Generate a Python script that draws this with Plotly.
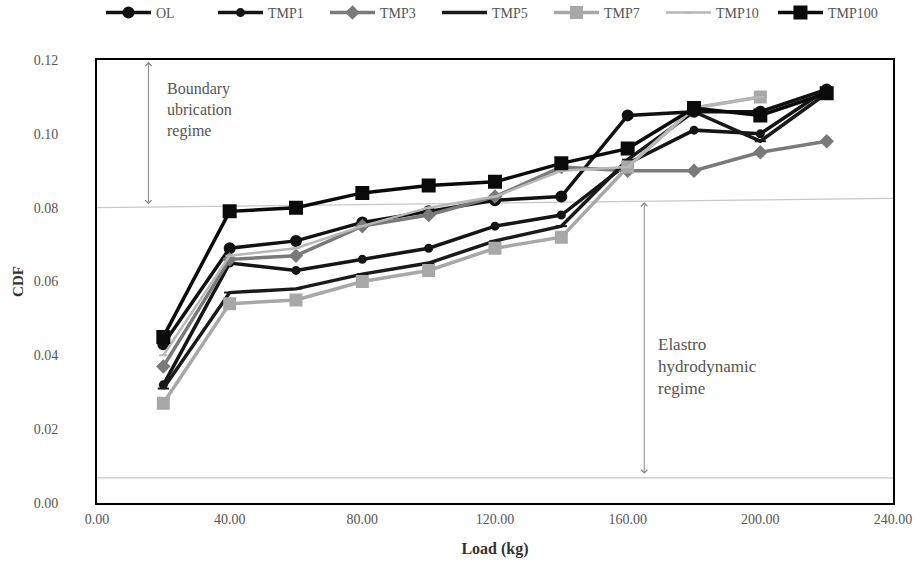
import plotly.graph_objects as go

loads = [20, 40, 60, 80, 100, 120, 140, 160, 180, 200, 220]

ol     = [0.043, 0.069, 0.071, 0.076, 0.079, 0.082, 0.083, 0.105, 0.106, 0.106, 0.112]
tmp1   = [0.032, 0.065, 0.063, 0.066, 0.069, 0.075, 0.078, 0.092, 0.101, 0.100, 0.112]
tmp3   = [0.037, 0.066, 0.067, 0.075, 0.078, 0.083, 0.091, 0.090, 0.090, 0.095, 0.098]
tmp5   = [0.031, 0.057, 0.058, 0.062, 0.065, 0.071, 0.075, 0.093, 0.106, 0.098, 0.111]
tmp7   = [0.027, 0.054, 0.055, 0.060, 0.063, 0.069, 0.072, 0.091, 0.107, 0.110, None]
tmp10  = [0.040, 0.067, 0.069, 0.075, 0.080, 0.083, 0.090, 0.091, 0.107, 0.110, None]
tmp100 = [0.045, 0.079, 0.080, 0.084, 0.086, 0.087, 0.092, 0.096, 0.107, 0.105, 0.111]

names = ["OL", "TMP1", "TMP3", "TMP5", "TMP7", "TMP10", "TMP100"]
series = [ol, tmp1, tmp3, tmp5, tmp7, tmp10, tmp100]
colors = ["#111111", "#151515", "#7a7a7a", "#1a1a1a", "#a8a8a8", "#b8b8b8", "#0a0a0a"]
symbols = ["circle", "circle", "diamond", "line-ew", "square", "line-ew", "square"]
msizes = [10, 7, 9, 8, 11, 6, 12]
widths = [3.5, 3.5, 3.5, 3.5, 3.5, 2.5, 3.5]

x_ticks = [0, 40, 80, 120, 160, 200, 240]
y_ticks = [0.00, 0.02, 0.04, 0.06, 0.08, 0.10, 0.12]

fig = go.Figure()
for n, s, c, sym, ms, w in zip(names, series, colors, symbols, msizes, widths):
    fig.add_trace(go.Scatter(
        x=loads, y=s, name=n, mode="lines+markers",
        line=dict(color=c, width=w),
        marker=dict(symbol=sym, size=ms, color=c, line=dict(color=c, width=2)),
        connectgaps=False,
    ))

serif = "Liberation Serif, Times New Roman, serif"

fig.update_layout(
    width=920, height=572,
    margin=dict(l=97, r=27, t=60, b=69, autoexpand=False),
    paper_bgcolor="white", plot_bgcolor="white",
    font=dict(family=serif, size=12, color="#555555"),
    showlegend=True,
    legend=dict(orientation="h", x=0.005, y=1.07, xanchor="left", yanchor="bottom",
                font=dict(family=serif, size=14, color="#555555"),
                entrywidth=52, entrywidthmode="pixels", itemwidth=45,
                tracegroupgap=0),
    xaxis=dict(range=[0, 240], tickvals=x_ticks, ticktext=[f"{v:.2f}" for v in x_ticks],
               showgrid=False, zeroline=False, showline=True, linecolor="black", linewidth=2,
               mirror=True, ticks="", tickfont=dict(family=serif, size=14, color="#555555"),
               ticklabelstandoff=2,
               title=dict(text="<b>Load (kg)</b>", font=dict(family=serif, size=16, color="#333333"),
                          standoff=17)),
    yaxis=dict(range=[0, 0.12], tickvals=y_ticks, ticktext=[f"{v:.2f}" for v in y_ticks],
               showgrid=False, zeroline=False, showline=True, linecolor="black", linewidth=2,
               mirror=True, ticks="", tickfont=dict(family=serif, size=14, color="#555555"),
               ticklabelstandoff=34,
               title=dict(text="<b>CDF</b>", font=dict(family=serif, size=15, color="#333333"),
                          standoff=6)),
)

# regime boundary lines
fig.add_shape(type="line", xref="x", yref="y", x0=0, x1=240, y0=0.080, y1=0.0825,
              line=dict(color="#c8c8c8", width=1.2), layer="below")
fig.add_shape(type="line", xref="x", yref="y", x0=0, x1=240, y0=0.0068, y1=0.0068,
              line=dict(color="#c8c8c8", width=1.2), layer="below")

# double-headed arrows
fig.add_annotation(x=15.5, y=0.1195, ax=15.5, ay=0.0805, xref="x", yref="y", axref="x", ayref="y",
                   text="", showarrow=True, arrowhead=4, startarrowhead=4, arrowside="end+start",
                   arrowsize=1.2, arrowwidth=1, arrowcolor="#888888")
fig.add_annotation(x=165, y=0.0815, ax=165, ay=0.0075, xref="x", yref="y", axref="x", ayref="y",
                   text="", showarrow=True, arrowhead=4, startarrowhead=4, arrowside="end+start",
                   arrowsize=1.2, arrowwidth=1, arrowcolor="#888888")

fig.add_annotation(x=20.5, y=0.1065, xref="x", yref="y", xanchor="left", yanchor="middle",
                   text="Boundary<br>ubrication<br>regime", showarrow=False, align="left",
                   font=dict(family=serif, size=16, color="#555555"))
fig.add_annotation(x=168.5, y=0.037, xref="x", yref="y", xanchor="left", yanchor="middle",
                   text="Elastro<br>hydrodynamic<br>regime", showarrow=False, align="left",
                   font=dict(family=serif, size=17, color="#555555"))

fig.write_html("out.html")
